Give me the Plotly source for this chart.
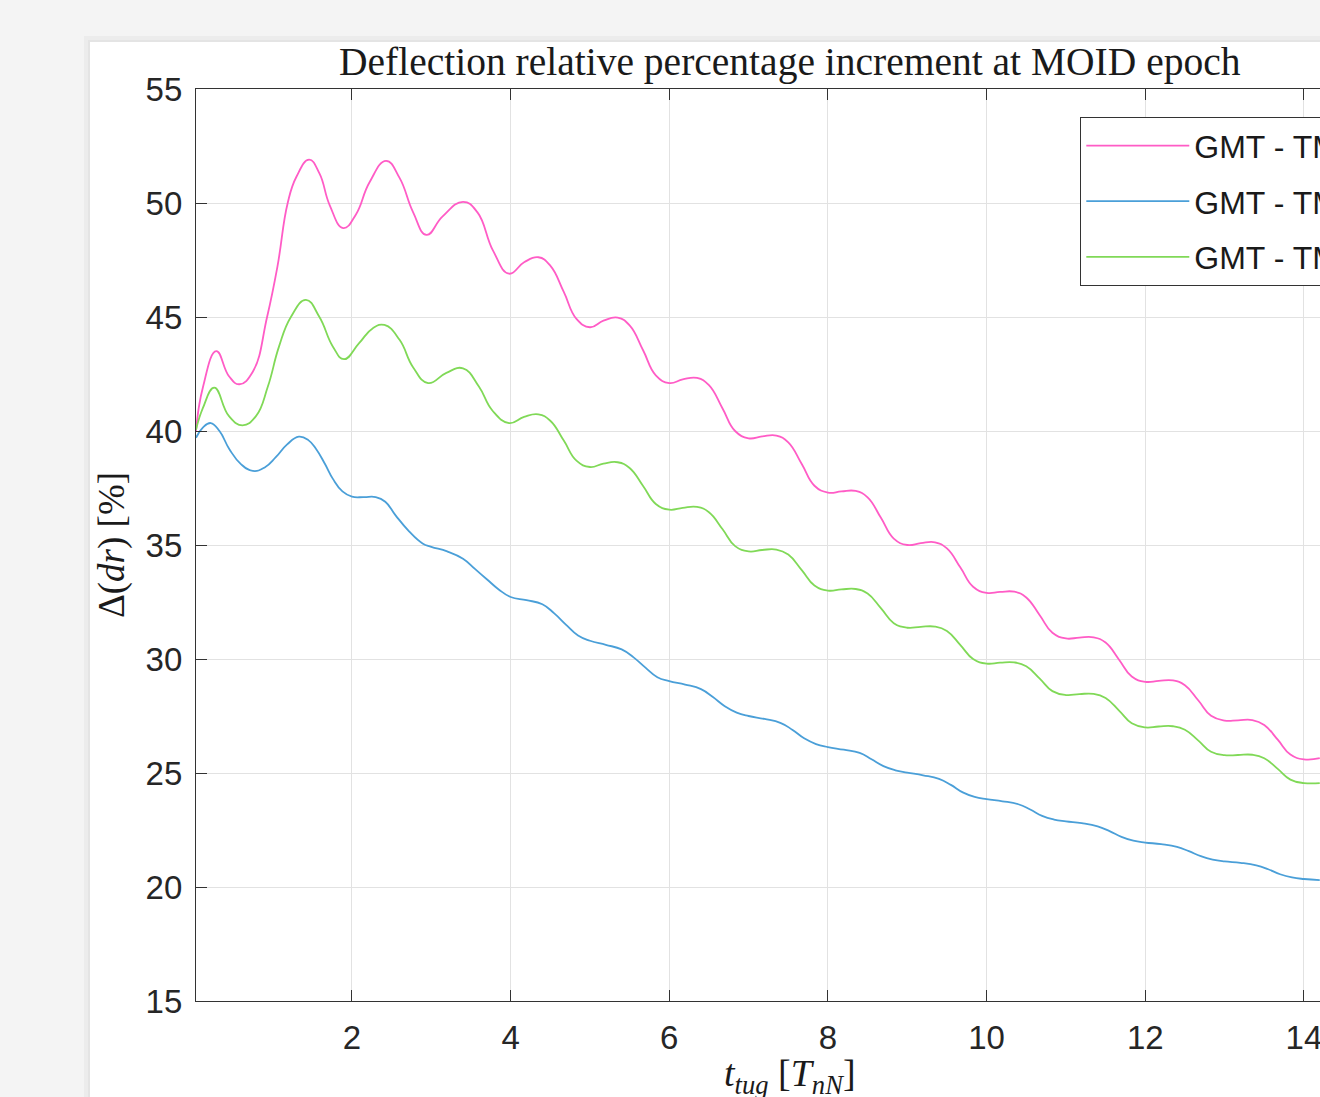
import plotly.graph_objects as go

# ---------------- data ----------------
pink_x = [0.034, 0.12, 0.29, 0.45, 0.58, 0.75, 0.93, 1.06, 1.19, 1.3, 1.46, 1.59, 1.72, 1.89, 2.05,
          2.22, 2.43, 2.6, 2.77, 2.94, 3.14, 3.4, 3.58, 3.78, 3.98,
          4.17, 4.35, 4.5, 4.67, 4.83, 5.0, 5.17, 5.35, 5.5, 5.67, 5.83, 6.0,
          6.17, 6.35, 6.5, 6.67, 6.83, 7.0, 7.17, 7.35, 7.5, 7.67, 7.83, 8.0,
          8.17, 8.35, 8.5, 8.67, 8.83, 9.0, 9.17, 9.35, 9.5, 9.67, 9.83, 10.0,
          10.17, 10.35, 10.5, 10.67, 10.83, 11.0, 11.17, 11.35, 11.5, 11.67, 11.83, 12.0,
          12.17, 12.35, 12.5, 12.67, 12.83, 13.0, 13.17, 13.35, 13.5, 13.67, 13.83, 14.0, 14.2]
pink_y = [40.0, 41.9, 43.5, 42.4, 42.05, 42.6, 45.0, 47.2, 50.0, 51.15, 51.9, 51.3, 49.9, 48.9, 49.5,
          50.9, 51.85, 51.1, 49.6, 48.6, 49.4, 50.05, 49.6, 47.9, 46.9,
          47.4, 47.62, 47.25, 46.1, 44.92, 44.55, 44.84, 44.97, 44.63, 43.54, 42.44, 42.1,
          42.26, 42.33, 42.01, 41.0, 40.0, 39.68, 39.76, 39.8, 39.5, 38.55, 37.6, 37.3,
          37.35, 37.37, 37.09, 36.18, 35.28, 35.0, 35.08, 35.12, 34.85, 34.01, 33.17, 32.9,
          32.94, 32.95, 32.7, 31.92, 31.15, 30.9, 30.94, 30.95, 30.72, 29.97, 29.23, 29.0,
          29.04, 29.06, 28.85, 28.18, 27.51, 27.3, 27.31, 27.32, 27.11, 26.46, 25.81, 25.6, 25.65]

blue_x = [0.034, 0.12, 0.22, 0.33, 0.455, 0.6, 0.75, 0.9, 1.04, 1.18, 1.33, 1.45, 1.55, 1.66, 1.76,
          1.88, 2.0, 2.15, 2.3, 2.42, 2.55, 2.72, 2.89, 3.0, 3.2, 3.4, 3.55, 3.7, 3.85, 4.0,
          4.2, 4.4, 4.55, 4.7, 4.85, 5.0, 5.2, 5.4, 5.55, 5.7, 5.85, 6.0,
          6.2, 6.4, 6.55, 6.7, 6.85, 7.0, 7.2, 7.4, 7.55, 7.7, 7.85, 8.0,
          8.2, 8.4, 8.55, 8.7, 8.85, 9.0, 9.2, 9.4, 9.55, 9.7, 9.85, 10.0,
          10.2, 10.4, 10.55, 10.7, 10.85, 11.0, 11.2, 11.4, 11.55, 11.7, 11.85, 12.0,
          12.2, 12.4, 12.55, 12.7, 12.85, 13.0, 13.2, 13.4, 13.55, 13.7, 13.85, 14.0, 14.2]
blue_y = [39.7, 40.15, 40.35, 40.0, 39.2, 38.55, 38.25, 38.4, 38.85, 39.4, 39.75, 39.6, 39.2, 38.55, 37.9,
          37.35, 37.12, 37.1, 37.1, 36.9, 36.3, 35.6, 35.07, 34.92, 34.72, 34.4, 33.95, 33.5, 33.05, 32.72,
          32.58, 32.4, 32.0, 31.5, 31.03, 30.8, 30.62, 30.42, 30.07, 29.62, 29.2, 29.03,
          28.88, 28.68, 28.33, 27.93, 27.65, 27.5, 27.37, 27.2, 26.9, 26.52, 26.27, 26.14,
          26.02, 25.88, 25.6, 25.3, 25.12, 25.02, 24.9, 24.74, 24.48, 24.15, 23.95, 23.85,
          23.76, 23.63, 23.4, 23.12, 22.96, 22.88, 22.8, 22.66, 22.45, 22.2, 22.03, 21.95,
          21.88, 21.76, 21.57, 21.35, 21.2, 21.12, 21.06, 20.95, 20.78, 20.56, 20.42, 20.35, 20.3]

green_x = [0.034, 0.12, 0.265, 0.45, 0.62, 0.79, 0.94, 1.08, 1.23, 1.42, 1.59, 1.76, 1.9, 2.09, 2.26,
           2.41, 2.6, 2.77, 2.96, 3.19, 3.4, 3.6, 3.77, 3.98,
           4.17, 4.35, 4.5, 4.67, 4.83, 5.0, 5.17, 5.35, 5.5, 5.67, 5.83, 6.0,
           6.17, 6.35, 6.5, 6.67, 6.83, 7.0, 7.17, 7.35, 7.5, 7.67, 7.83, 8.0,
           8.17, 8.35, 8.5, 8.67, 8.83, 9.0, 9.17, 9.35, 9.5, 9.67, 9.83, 10.0,
           10.17, 10.35, 10.5, 10.67, 10.83, 11.0, 11.17, 11.35, 11.5, 11.67, 11.83, 12.0,
           12.17, 12.35, 12.5, 12.67, 12.83, 13.0, 13.17, 13.35, 13.5, 13.67, 13.83, 14.0, 14.2]
green_y = [40.05, 41.0, 41.9, 40.65, 40.25, 40.65, 41.95, 43.7, 45.0, 45.75, 45.0, 43.7, 43.15, 43.85, 44.5,
           44.65, 44.0, 42.8, 42.1, 42.55, 42.75, 41.95, 40.9, 40.35,
           40.62, 40.73, 40.45, 39.58, 38.7, 38.42, 38.57, 38.63, 38.38, 37.59, 36.8, 36.55,
           36.63, 36.67, 36.44, 35.7, 34.95, 34.72, 34.78, 34.8, 34.58, 33.9, 33.22, 33.0,
           33.05, 33.07, 32.87, 32.22, 31.57, 31.37, 31.41, 31.42, 31.23, 30.61, 30.0, 29.8,
           29.84, 29.85, 29.68, 29.14, 28.59, 28.42, 28.46, 28.47, 28.29, 27.74, 27.18, 27.0,
           27.04, 27.05, 26.9, 26.42, 25.93, 25.78, 25.79, 25.8, 25.65, 25.18, 24.71, 24.56, 24.56]

series_names = ["GMT - TM 1", "GMT - TM 2", "GMT - TM 3"]
series_colors = ["#ff5cc6", "#4a9fd8", "#80d957"]

x_ticks = [2, 4, 6, 8, 10, 12, 14]
y_ticks = [15, 20, 25, 30, 35, 40, 45, 50, 55]

title_text = "Deflection relative percentage increment at MOID epoch"
xlabel_text = "<i>t</i><sub><i>tug</i></sub> [<i>T</i><sub><i>nN</i></sub>]"
ylabel_text = "Δ(<i>dr</i>) [%]"

# ---------------- figure ----------------
W, H = 1320, 1097
L, R, T, B = 196, 0, 89, 96
pw, ph = W - L - R, H - T - B


def px_to_paper_x(px):
    return (px - L) / pw


def px_to_paper_y(py):
    return (H - B - py) / ph


fig = go.Figure()
for i, (xs, ys) in enumerate([(pink_x, pink_y), (blue_x, blue_y), (green_x, green_y)]):
    fig.add_trace(go.Scatter(
        x=xs, y=ys, mode="lines", name=series_names[i],
        line=dict(color=series_colors[i], width=1.8, shape="spline", smoothing=1.3),
        legendgroup="g%d" % i,
    ))

axis_font = dict(family="Liberation Sans, Arial, sans-serif", size=33, color="#262626")

fig.update_layout(
    width=W, height=H,
    margin=dict(l=L, r=R, t=T, b=B, pad=0, autoexpand=False),
    paper_bgcolor="#f4f4f4",
    plot_bgcolor="white",
    showlegend=True,
    xaxis=dict(
        range=[0.034, 14.203], tickvals=x_ticks, ticktext=[str(v) for v in x_ticks],
        showgrid=True, gridcolor="#e2e2e2", gridwidth=1, zeroline=False,
        showline=True, linecolor="#333333", linewidth=1.3, mirror="ticks",
        ticks="inside", ticklen=11, tickcolor="#333333", tickwidth=1.3,
        tickfont=axis_font, ticklabelstandoff=7, automargin=False,
        ticklabeloverflow="allow",
    ),
    yaxis=dict(
        range=[15, 55], tickvals=y_ticks, ticktext=[str(v) for v in y_ticks],
        showgrid=True, gridcolor="#e2e2e2", gridwidth=1, zeroline=False,
        showline=True, linecolor="#333333", linewidth=1.3, mirror=False,
        ticks="inside", ticklen=11, tickcolor="#333333", tickwidth=1.3,
        tickfont=axis_font, ticklabelstandoff=6, automargin=False,
        ticklabeloverflow="allow",
    ),
    legend=dict(
        x=px_to_paper_x(1080), y=px_to_paper_y(117), xanchor="left", yanchor="top",
        bgcolor="white", bordercolor="#333333", borderwidth=1.3,
        font=dict(family="Liberation Sans, Arial, sans-serif", size=32, color="#1a1a1a"),
        itemwidth=103, tracegroupgap=11, traceorder="grouped",
    ),
    shapes=[
        dict(type="rect", xref="paper", yref="paper", layer="below",
             x0=px_to_paper_x(84), x1=1.2, y0=-0.3, y1=px_to_paper_y(36),
             fillcolor="#ececec", line=dict(width=0)),
        dict(type="rect", xref="paper", yref="paper", layer="below",
             x0=px_to_paper_x(88), x1=1.2, y0=-0.3, y1=px_to_paper_y(40),
             fillcolor="#e4e4e4", line=dict(width=0)),
        dict(type="rect", xref="paper", yref="paper", layer="below",
             x0=px_to_paper_x(90), x1=1.2, y0=-0.3, y1=px_to_paper_y(42),
             fillcolor="white", line=dict(width=0)),
    ],
    annotations=[
        dict(text=title_text, xref="paper", yref="paper",
             x=px_to_paper_x(790), y=px_to_paper_y(62), xanchor="center", yanchor="middle",
             showarrow=False,
             font=dict(family="Liberation Serif, Times New Roman, serif", size=39.5, color="#1a1a1a")),
        dict(text=xlabel_text, xref="paper", yref="paper",
             x=px_to_paper_x(790), y=px_to_paper_y(1076), xanchor="center", yanchor="middle",
             showarrow=False,
             font=dict(family="Liberation Serif, Times New Roman, serif", size=38, color="#1a1a1a")),
        dict(text=ylabel_text, xref="paper", yref="paper", textangle=-90,
             x=px_to_paper_x(112), y=px_to_paper_y(545), xanchor="center", yanchor="middle",
             showarrow=False,
             font=dict(family="Liberation Serif, Times New Roman, serif", size=37, color="#1a1a1a")),
    ],
)

fig.write_html("out.html")
